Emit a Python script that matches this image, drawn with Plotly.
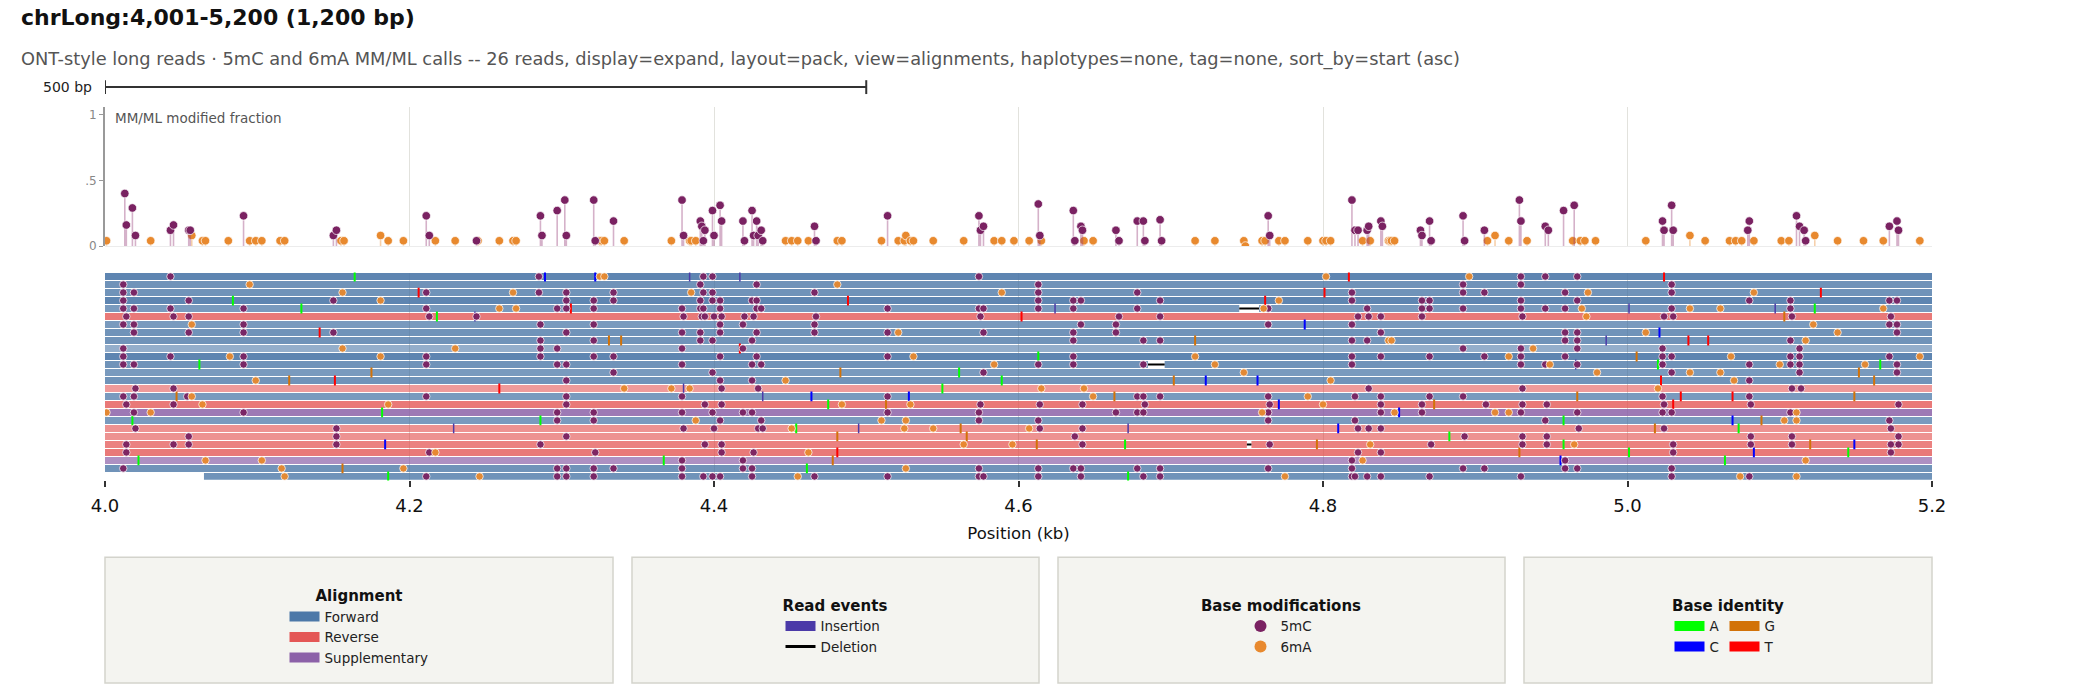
import plotly.graph_objects as go

# ---------------- data ----------------
TITLE = "chrLong:4,001-5,200 (1,200 bp)"
SUBTITLE = ("ONT-style long reads · 5mC and 6mA MM/ML calls -- 26 reads, display=expand, layout=pack, "
            "view=alignments, haplotypes=none, tag=none, sort_by=start (asc)")
X_RANGE_KB = [4.0, 5.2]
X_TICKS_KB = [4.0, 4.2, 4.4, 4.6, 4.8, 5.0, 5.2]
FRAC_TICKS = [0, 0.5, 1]
FRAC_TICK_TEXT = ["0", ".5", "1"]
SCALE_BAR_BP = 500

READ_STRAND = ["F", "F", "F", "F", "F", "R", "F", "F", "F", "F", "F", "F", "F",
               "F", "R", "F", "R", "S", "F", "R", "R", "R", "R", "S", "F", "F"]
READ_START = [3620, 3755, 3810, 3540, 3902, 3688, 3725, 3850, 3940, 3610, 3790, 3870, 3705,
              3660, 3930, 3580, 3815, 3890, 3745, 3960, 3835, 3640, 3910, 3975, 3770, 4065]
READ_END = [5480, 5390, 5620, 5310, 5555, 5275, 5440, 5360, 5510, 5290, 5405, 5580, 5335,
            5470, 5260, 5525, 5380, 5300, 5450, 5345, 5495, 5410, 5270, 5320, 5530, 5365]
READ_MAPQ = [60, 50, 50, 60, 45, 50, 45, 50, 50, 30, 60, 50, 45,
             50, 30, 45, 50, 55, 45, 35, 35, 45, 50, 40, 50, 50]

READ_5MC = [
    [4043, 4285, 4393, 4399, 4574, 4930, 4946, 4967],
    [4012, 4391, 4428, 4613, 4892, 4930, 5029],
    [4012, 4019, 4211, 4285, 4303, 4334, 4393, 4399, 4466, 4613, 4678, 4819, 4892, 4906, 4959, 5029],
    [4012, 4055, 4150, 4303, 4321, 4334, 4391, 4399, 4404, 4425, 4428, 4613, 4636, 4641, 4693, 4819,
     4865, 4870, 4930, 4967, 5080, 5107, 5172, 5177],
    [4012, 4019, 4043, 4091, 4211, 4297, 4303, 4321, 4379, 4391, 4393, 4404, 4428, 4431, 4514, 4574,
     4577, 4613, 4636, 4678, 4764, 4829, 4865, 4870, 4892, 4930, 4946, 4959, 5029, 5107],
    [4014, 4045, 4055, 4213, 4244, 4380, 4392, 4394, 4400, 4405, 4420, 4426, 4467, 4575, 4666, 4693,
     4823, 4830, 4838, 4865, 4931, 5024, 5030, 5108, 5173],
    [4012, 4019, 4091, 4286, 4321, 4404, 4419, 4466, 4641, 4664, 4764, 4819, 5172, 5177],
    [4019, 4055, 4091, 4150, 4303, 4379, 4391, 4404, 4428, 4466, 4514, 4577, 4636, 4664, 4838, 4959,
     4967, 5177],
    [4286, 4321, 4391, 4399, 4425, 4636, 4682, 4693, 4819, 4829, 4959, 4967, 5107],
    [4012, 4286, 4297, 4379, 4419, 4892, 4930, 4967, 5023, 5113],
    [4012, 4043, 4091, 4211, 4286, 4321, 4334, 4404, 4428, 4514, 4636, 4819, 4838, 4870, 4906, 4930,
     4959, 5023, 5029, 5107, 5113, 5172],
    [4012, 4019, 4091, 4211, 4297, 4303, 4379, 4425, 4431, 4613, 4636, 4682, 4819, 4930, 4946, 4967,
     5023, 5080, 5107, 5113, 5177],
    [4334, 4399, 4577, 5029, 5113, 5177],
    [4303, 4404, 4425, 5080],
    [4020, 4045, 4405, 4429, 4830, 4931, 5108, 5114],
    [4012, 4019, 4054, 4211, 4303, 4379, 4514, 4678, 4682, 4693, 4764, 4821, 4838, 4870, 4892, 5023, 5080],
    [4014, 4045, 4303, 4394, 4405, 4575, 4614, 4642, 4683, 4765, 4838, 4865, 4907, 4931, 4947, 5024,
     5081, 5178],
    [4019, 4091, 4297, 4321, 4379, 4399, 4419, 4425, 4514, 4574, 4664, 4678, 4682, 4764, 4838, 4865,
     4930, 4967, 5023, 5029, 5107],
    [4297, 4321, 4404, 4431, 4574, 4613, 4764, 4821, 4946, 5172],
    [4020, 4152, 4380, 4400, 4429, 4432, 4614, 4642, 4823, 4830, 4838, 4968, 5024, 5173],
    [4055, 4152, 4303, 4637, 4893, 4931, 4947, 5081, 5108, 5178],
    [4014, 4045, 4055, 4152, 4286, 4394, 4405, 4642, 4765, 4871, 4931, 4947, 5030, 5081, 5108, 5173, 5178],
    [4014, 4213, 4322, 4405, 4426, 4823, 4838, 5030, 5173],
    [4379, 4419, 4819, 4959],
    [4012, 4297, 4303, 4321, 4334, 4379, 4419, 4425, 4574, 4613, 4636, 4641, 4678, 4693, 4764, 4819,
     4892, 4906, 4959, 4967, 5029],
    [4211, 4297, 4303, 4321, 4379, 4393, 4399, 4404, 4425, 4466, 4514, 4574, 4577, 4613, 4641, 4682,
     4693, 4819, 4821, 4829, 4838, 4870, 4930, 5029, 5080],
]
READ_6MA = [
    [4325, 4328, 4802, 4896],
    [4095, 4481],
    [4156, 4268, 4385, 4589, 4974, 5083],
    [4181, 4771],
    [4259, 4270, 4761, 4970, 5041, 5061, 5168],
    [4973],
    [4057, 5122],
    [4521, 5012, 5138],
    [4843, 4845, 5117],
    [4156, 4230, 4938],
    [4082, 4181, 4531, 4716, 4922, 5068, 5192],
    [4584, 4729, 4949, 5100, 5156],
    [4748, 4980, 5041, 5061],
    [4099, 4447, 4805, 5070],
    [4341, 4372, 4384, 4615, 4643, 5020],
    [4057, 4649, 4790],
    [4064, 4186, 4484, 4529, 4800],
    [4001, 4030, 4760, 4847, 4913, 4922, 5111],
    [4388, 4510, 4526, 5103, 5111],
    [4451, 4525, 4544, 4607],
    [],
    [4564, 4596, 4831, 4965],
    [4217, 4462],
    [4066, 4103, 4826, 5117],
    [4116, 4196, 4526],
    [4118, 4246, 4455, 4775, 5074, 5111],
]
READ_MISMATCH = [
    [(4164, "A"), (4289, "C"), (4322, "C"), (4817, "T"), (5024, "T")],
    [],
    [(4206, "T"), (4801, "T"), (5127, "T")],
    [(4084, "A"), (4488, "T"), (4762, "T")],
    [(4129, "A"), (4306, "T"), (5123, "A")],
    [(4218, "A"), (4602, "T"), (5103, "G")],
    [(4788, "C")],
    [(4141, "T"), (5021, "C")],
    [(4331, "G"), (4339, "G"), (4716, "G"), (5040, "T"), (5053, "T")],
    [(4417, "T")],
    [(4613, "A"), (5006, "G")],
    [(4062, "A"), (5020, "A"), (5166, "A")],
    [(4175, "G"), (4483, "G"), (4561, "A"), (5152, "G")],
    [(4121, "G"), (4151, "T"), (4589, "A"), (4702, "G"), (4723, "C"), (4757, "C"), (5022, "T"), (5162, "G")],
    [(4259, "T"), (4550, "A")],
    [(4047, "G"), (4464, "C"), (4528, "C"), (4663, "G"), (4967, "G"), (5035, "T"), (5069, "T"), (5149, "G")],
    [(4475, "A"), (4513, "G"), (4771, "C"), (4873, "G"), (5030, "T")],
    [(4182, "A"), (4850, "C")],
    [(4018, "A"), (4286, "A"), (4958, "A"), (5069, "C"), (5088, "G")],
    [(4454, "A"), (4562, "G"), (4810, "C"), (5018, "G"), (5073, "A")],
    [(4481, "G"), (4566, "G"), (4883, "A")],
    [(4184, "C"), (4612, "G"), (4670, "A"), (4796, "G"), (4958, "A"), (5120, "G"), (5149, "C")],
    [(4481, "T"), (4929, "G"), (5001, "A"), (5083, "C"), (5145, "A")],
    [(4022, "A"), (4367, "A"), (4478, "G"), (4956, "C"), (5064, "A")],
    [(4156, "G"), (4461, "A")],
    [(4186, "A"), (4672, "A")],
]
READ_INSERTION = [
    [4384, 4417], [], [], [], [4624, 5001, 5097], [4243], [], [], [4986], [], [], [4966], [],
    [], [4380], [4432], [], [], [], [4229, 4495, 4672], [], [], [], [], [], [],
]
READ_DELETION = [
    [], [], [], [], [(4745, 4758)], [], [], [], [], [], [], [(4685, 4696)], [],
    [], [], [], [], [], [], [], [], [(4750, 4753)], [], [], [], [],
]

LOLLI_5MC_POS = [4013, 4014, 4018, 4020, 4043, 4045, 4055, 4056, 4091, 4150, 4152, 4211, 4213, 4244,
                 4286, 4287, 4297, 4302, 4303, 4321, 4322, 4334, 4379, 4380, 4391, 4392, 4393, 4394,
                 4399, 4400, 4404, 4405, 4419, 4420, 4425, 4426, 4428, 4429, 4431, 4432, 4466, 4467,
                 4514, 4574, 4575, 4577, 4613, 4614, 4636, 4637, 4641, 4642, 4664, 4666, 4678, 4682,
                 4683, 4693, 4694, 4764, 4765, 4819, 4821, 4823, 4829, 4830, 4838, 4839, 4864, 4865,
                 4870, 4871, 4892, 4893, 4906, 4929, 4930, 4946, 4948, 4958, 4965, 5023, 5024, 5029,
                 5030, 5079, 5080, 5111, 5113, 5116, 5117, 5172, 5177, 5178]
LOLLI_5MC_FRAC = [0.40, 0.16, 0.29, 0.08, 0.12, 0.16, 0.12, 0.12, 0.23, 0.08, 0.12, 0.23, 0.08, 0.04,
                  0.23, 0.08, 0.27, 0.35, 0.08, 0.35, 0.04, 0.19, 0.35, 0.08, 0.19, 0.15, 0.04, 0.12,
                  0.27, 0.08, 0.31, 0.19, 0.19, 0.04, 0.27, 0.08, 0.19, 0.08, 0.12, 0.04, 0.15, 0.04,
                  0.23, 0.23, 0.12, 0.15, 0.32, 0.08, 0.27, 0.04, 0.15, 0.12, 0.12, 0.04, 0.19, 0.19,
                  0.04, 0.20, 0.04, 0.23, 0.08, 0.35, 0.12, 0.12, 0.12, 0.15, 0.19, 0.15, 0.12, 0.08,
                  0.19, 0.04, 0.23, 0.04, 0.12, 0.35, 0.19, 0.15, 0.12, 0.27, 0.31, 0.19, 0.12, 0.31,
                  0.12, 0.12, 0.19, 0.23, 0.15, 0.12, 0.04, 0.15, 0.19, 0.12]
LOLLI_6MA_POS = [4001, 4030, 4057, 4064, 4066, 4081, 4095, 4099, 4103, 4115, 4118, 4155, 4157, 4181,
                 4186, 4196, 4217, 4230, 4245, 4259, 4268, 4270, 4325, 4326, 4328, 4341, 4372, 4384,
                 4385, 4388, 4447, 4451, 4455, 4462, 4481, 4484, 4510, 4521, 4525, 4526, 4529, 4531,
                 4544, 4564, 4584, 4589, 4597, 4607, 4615, 4643, 4649, 4716, 4729, 4748, 4749, 4760,
                 4762, 4771, 4775, 4790, 4800, 4802, 4805, 4826, 4831, 4843, 4844, 4845, 4847, 4908,
                 4913, 4922, 4934, 4964, 4969, 4972, 4979, 5012, 5041, 5051, 5067, 5071, 5075, 5083,
                 5101, 5106, 5123, 5138, 5155, 5168, 5192]
LOLLI_6MA_FRAC = [0.04, 0.04, 0.08, 0.04, 0.04, 0.04, 0.04, 0.04, 0.04, 0.04, 0.04, 0.04, 0.04, 0.08,
                  0.04, 0.04, 0.04, 0.04, 0.04, 0.04, 0.04, 0.04, 0.04, 0.04, 0.04, 0.04, 0.04, 0.04,
                  0.04, 0.04, 0.04, 0.04, 0.04, 0.04, 0.04, 0.04, 0.04, 0.04, 0.04, 0.08, 0.04, 0.04,
                  0.04, 0.04, 0.04, 0.04, 0.04, 0.04, 0.04, 0.04, 0.04, 0.04, 0.04, 0.04, 0.00, 0.04,
                  0.04, 0.04, 0.04, 0.04, 0.04, 0.04, 0.04, 0.04, 0.04, 0.04, 0.04, 0.04, 0.04, 0.04,
                  0.08, 0.04, 0.04, 0.04, 0.04, 0.04, 0.04, 0.04, 0.08, 0.04, 0.04, 0.04, 0.04, 0.04,
                  0.04, 0.04, 0.08, 0.04, 0.04, 0.04, 0.04]

# ---------------- colours ----------------
STRAND_COLORS = {"F": "#4c78a8", "R": "#e45756", "S": "#8c61a8"}
STRAND_NAMES = {"F": "Forward", "R": "Reverse", "S": "Supplementary"}
BASE_COLORS = {"A": "#00ff00", "C": "#0000ff", "G": "#d27208", "T": "#ff0000"}
C5MC = "#7a2262"
C6MA = "#e8892e"
INS_COLOR = "#4b3aa8"
FONT = "DejaVu Sans, sans-serif"


def kb(v):
    return v / 1000.0


rows = list(range(len(READ_STRAND)))
fig = go.Figure()

# reads
fig.add_trace(go.Bar(
    orientation="h", y=rows,
    base=[kb(s) for s in READ_START],
    x=[kb(e - s) for s, e in zip(READ_START, READ_END)],
    width=0.86,
    marker=dict(color=[STRAND_COLORS[s] for s in READ_STRAND],
                opacity=[0.3 + q / 100 for q in READ_MAPQ], line=dict(width=0)),
    xaxis="x2", yaxis="y2", showlegend=False, hoverinfo="skip",
))

# deletions: white gap + black line
del_base, del_len, del_row, dl_x, dl_y = [], [], [], [], []
for r, dels in enumerate(READ_DELETION):
    for s, e in dels:
        del_base.append(kb(s))
        del_len.append(kb(e - s))
        del_row.append(r)
        dl_x += [kb(s), kb(e), None]
        dl_y += [r, r, None]
fig.add_trace(go.Bar(orientation="h", y=del_row, base=del_base, x=del_len, width=0.86,
                     marker=dict(color="white", line=dict(width=0)),
                     xaxis="x2", yaxis="y2", showlegend=False, hoverinfo="skip"))
fig.add_trace(go.Scatter(x=dl_x, y=dl_y, mode="lines", line=dict(color="black", width=2),
                         xaxis="x2", yaxis="y2", showlegend=False, hoverinfo="skip"))

# mismatches and insertions
mm_x, mm_y, mm_c = [], [], []
for r, mms in enumerate(READ_MISMATCH):
    for pos, base in mms:
        mm_x.append(kb(pos))
        mm_y.append(r)
        mm_c.append(BASE_COLORS[base])
fig.add_trace(go.Scatter(x=mm_x, y=mm_y, mode="markers",
                         marker=dict(symbol="line-ns", size=7, color=mm_c, line=dict(color=mm_c, width=2)),
                         xaxis="x2", yaxis="y2", showlegend=False, hoverinfo="skip"))
ins_x, ins_y = [], []
for r, ins in enumerate(READ_INSERTION):
    for pos in ins:
        ins_x.append(kb(pos))
        ins_y.append(r)
fig.add_trace(go.Scatter(x=ins_x, y=ins_y, mode="markers",
                         marker=dict(symbol="line-ns", size=7, line=dict(color=INS_COLOR, width=1.5)),
                         xaxis="x2", yaxis="y2", showlegend=False, hoverinfo="skip"))

# modification calls on reads
for mods, col in ((READ_5MC, C5MC), (READ_6MA, C6MA)):
    mx, my = [], []
    for r, lst in enumerate(mods):
        for pos in lst:
            mx.append(kb(pos))
            my.append(r)
    fig.add_trace(go.Scatter(x=mx, y=my, mode="markers",
                             marker=dict(size=7.5, color=col, opacity=0.95,
                                         line=dict(color="rgba(255,255,255,0.75)", width=1)),
                             xaxis="x2", yaxis="y2", showlegend=False, hoverinfo="skip"))

# lollipop track
for pos, frac, col, stem in ((LOLLI_6MA_POS, LOLLI_6MA_FRAC, C6MA, "rgba(232,137,46,0.4)"),
                             (LOLLI_5MC_POS, LOLLI_5MC_FRAC, C5MC, "rgba(150,60,120,0.4)")):
    sx, sy = [], []
    for p, f in zip(pos, frac):
        sx += [kb(p), kb(p), None]
        sy += [0, f, None]
    fig.add_trace(go.Scatter(x=sx, y=sy, mode="lines", line=dict(color=stem, width=1.6),
                             showlegend=False, hoverinfo="skip"))
    fig.add_trace(go.Scatter(x=[kb(p) for p in pos], y=frac, mode="markers",
                             marker=dict(size=8.5, color=col, line=dict(color="rgba(255,255,255,0.7)", width=1)),
                             showlegend=False, hoverinfo="skip"))

# legend entries
for key in ("F", "R", "S"):
    fig.add_trace(go.Scatter(x=[None], y=[None], mode="lines", name=STRAND_NAMES[key],
                             line=dict(color=STRAND_COLORS[key], width=10), legend="legend"))
fig.add_trace(go.Scatter(x=[None], y=[None], mode="lines", name="Insertion",
                         line=dict(color=INS_COLOR, width=10), legend="legend2"))
fig.add_trace(go.Scatter(x=[None], y=[None], mode="lines", name="Deletion",
                         line=dict(color="black", width=3), legend="legend2"))
fig.add_trace(go.Scatter(x=[None], y=[None], mode="markers", name="5mC",
                         marker=dict(color=C5MC, size=12), legend="legend3"))
fig.add_trace(go.Scatter(x=[None], y=[None], mode="markers", name="6mA",
                         marker=dict(color=C6MA, size=12), legend="legend3"))
for base, grp in (("A", "ac"), ("C", "ac"), ("G", "gt"), ("T", "gt")):
    fig.add_trace(go.Scatter(x=[None], y=[None], mode="lines", name=base, legendgroup=grp,
                             line=dict(color=BASE_COLORS[base], width=10), legend="legend4"))

W, H = 2100, 697
ML, MR = 105, 168
PW = W - ML - MR


def px_x(px):
    return (px - ML) / PW


def px_y(py):
    return 1 - py / H


# legend boxes
boxes = [(105, 613), (632, 1039), (1058, 1505), (1524, 1932)]
shapes = []
for x0, x1 in boxes:
    shapes.append(dict(type="rect", xref="paper", yref="paper", x0=px_x(x0), x1=px_x(x1),
                       y0=px_y(690), y1=px_y(563), fillcolor="#f4f4f0",
                       line=dict(color="#d3d3cc", width=1.5), layer="below"))

# scale bar
sb_end = X_RANGE_KB[0] + kb(SCALE_BAR_BP)
shapes.append(dict(type="line", xref="x", yref="paper", x0=X_RANGE_KB[0], x1=sb_end,
                   y0=px_y(88), y1=px_y(88), line=dict(color="#333", width=2)))
for xx in (X_RANGE_KB[0], sb_end):
    shapes.append(dict(type="line", xref="x", yref="paper", x0=xx, x1=xx,
                       y0=px_y(81), y1=px_y(95), line=dict(color="#333", width=2)))

annotations = [
    dict(text="<b>" + TITLE + "</b>", xref="paper", yref="paper", x=px_x(19), y=px_y(18),
         xanchor="left", yanchor="middle", showarrow=False, font=dict(size=22, color="#111")),
    dict(text=SUBTITLE, xref="paper", yref="paper", x=px_x(19), y=px_y(60),
         xanchor="left", yanchor="middle", showarrow=False, font=dict(size=17.8, color="#555")),
    dict(text="%d bp" % SCALE_BAR_BP, xref="paper", yref="paper", x=px_x(94), y=px_y(88),
         xanchor="right", yanchor="middle", showarrow=False, font=dict(size=14, color="#222")),
    dict(text="MM/ML modified fraction", xref="paper", yref="paper", x=px_x(113), y=px_y(119),
         xanchor="left", yanchor="middle", showarrow=False, font=dict(size=13.5, color="#555")),
]


def legend_cfg(cx, cy, title, orientation="v", indent=0):
    return dict(x=px_x(cx), y=px_y(cy), xanchor="center", yanchor="middle",
                bgcolor="rgba(0,0,0,0)", orientation=orientation, traceorder="grouped",
                indentation=indent, font=dict(size=13.5, color="#222"),
                title=dict(text="<b>" + title + "</b>", side="top center", font=dict(size=15, color="#111")))


fig.update_layout(
    width=W, height=H,
    margin=dict(l=ML, r=MR, t=0, b=0),
    paper_bgcolor="white", plot_bgcolor="white",
    font=dict(family=FONT),
    barmode="overlay",
    xaxis=dict(domain=[0, 1], range=X_RANGE_KB, anchor="y", tickvals=X_TICKS_KB, showticklabels=False,
               ticks="", showgrid=True, gridcolor="#e2e2dd", gridwidth=1, zeroline=False, showline=False),
    yaxis=dict(domain=[px_y(248.5), px_y(108)], range=[0, 1.06], tickvals=FRAC_TICKS, ticktext=FRAC_TICK_TEXT,
               ticks="outside", ticklen=4, tickcolor="#999", showline=True, linecolor="#999", linewidth=2,
               showgrid=False, zeroline=True, zerolinecolor="#ececec", zerolinewidth=1,
               tickfont=dict(size=12, color="#888")),
    xaxis2=dict(domain=[0, 1], range=X_RANGE_KB, anchor="y2", matches="x", tickvals=X_TICKS_KB,
                ticktext=["%.1f" % v for v in X_TICKS_KB], ticks="outside", ticklen=6, tickwidth=2,
                tickcolor="#333", showgrid=True, gridcolor="#d6d6d0", gridwidth=1, showline=False,
                zeroline=False, tickfont=dict(size=18, color="#111"), ticklabelstandoff=3,
                title=dict(text="Position (kb)", font=dict(size=16.5, color="#111"), standoff=12)),
    yaxis2=dict(domain=[px_y(485.3), px_y(275.3)], range=[25.5, -0.5], showticklabels=False,
                showgrid=False, zeroline=False, ticks=""),
    shapes=shapes,
    annotations=annotations,
    legend=legend_cfg(359, 634, "Alignment"),
    legend2=legend_cfg(835, 633, "Read events"),
    legend3=legend_cfg(1281, 633, "Base modifications", indent=42),
    legend4=legend_cfg(1728, 633, "Base identity", orientation="h"),
    hovermode=False,
)

# the page body keeps no default margin, so the figure sits at the window corner
fig.write_html("out.html", config={"displayModeBar": False},
               post_script="document.body.style.margin = '0px';")
